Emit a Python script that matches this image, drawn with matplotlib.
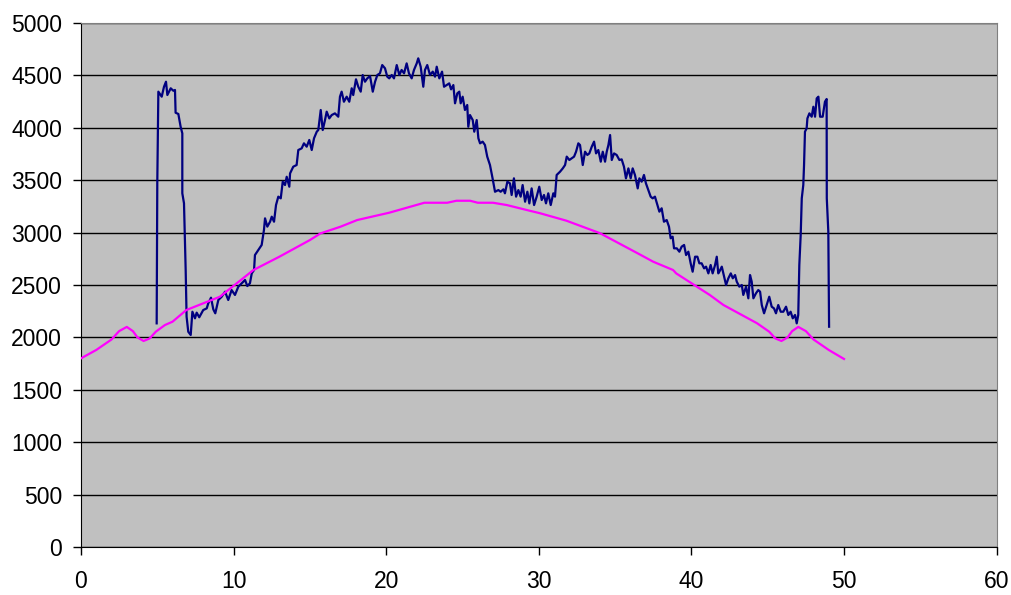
import matplotlib
matplotlib.use("Agg")
import matplotlib.pyplot as plt

meas_x = [4.96, 5.0, 5.07, 5.29, 5.44, 5.57, 5.66, 5.88, 6.05, 6.16, 6.2, 6.38, 6.53, 6.64, 6.64,
          6.75, 6.86, 6.92, 7.03, 7.19, 7.3, 7.47, 7.58, 7.75, 8.01, 8.24, 8.34, 8.52, 8.67, 8.8,
          9.0, 9.22, 9.44, 9.65, 9.87, 10.09, 10.31, 10.53, 10.75, 10.9, 11.07, 11.19, 11.34, 11.4,
          11.62, 11.84, 11.99, 12.06, 12.21, 12.39, 12.5, 12.65, 12.78, 12.93, 13.09, 13.22, 13.37,
          13.48, 13.65, 13.7, 13.91, 14.13, 14.24, 14.46, 14.61, 14.79, 14.96, 15.12, 15.27, 15.45,
          15.55, 15.71, 15.84, 15.99, 16.1, 16.27, 16.43, 16.64, 16.86, 16.97, 17.08, 17.23, 17.41,
          17.58, 17.74, 17.84, 18.02, 18.17, 18.33, 18.46, 18.61, 18.76, 18.94, 19.12, 19.27, 19.42,
          19.59, 19.74, 19.92, 20.07, 20.2, 20.36, 20.51, 20.69, 20.86, 21.01, 21.17, 21.34, 21.49,
          21.67, 21.82, 22.0, 22.1, 22.26, 22.43, 22.54, 22.69, 22.87, 23.05, 23.2, 23.31, 23.48,
          23.66, 23.79, 23.96, 24.13, 24.25, 24.4, 24.51, 24.66, 24.79, 24.88, 25.01, 25.16, 25.31,
          25.38, 25.49, 25.67, 25.77, 25.93, 26.04, 26.15, 26.32, 26.47, 26.62, 26.8, 26.97, 27.13,
          27.35, 27.5, 27.68, 27.78, 27.94, 28.11, 28.22, 28.37, 28.51, 28.66, 28.81, 28.94, 29.1,
          29.25, 29.38, 29.53, 29.69, 29.86, 30.03, 30.19, 30.34, 30.47, 30.62, 30.78, 30.95, 31.06,
          31.17, 31.39, 31.57, 31.72, 31.83, 32.0, 32.15, 32.31, 32.44, 32.59, 32.7, 32.88, 33.03,
          33.18, 33.31, 33.47, 33.62, 33.75, 33.9, 34.06, 34.19, 34.34, 34.45, 34.56, 34.67, 34.78,
          34.93, 35.1, 35.28, 35.43, 35.58, 35.71, 35.87, 36.02, 36.15, 36.3, 36.48, 36.59, 36.74,
          36.89, 37.02, 37.18, 37.33, 37.46, 37.61, 37.77, 37.9, 38.05, 38.2, 38.38, 38.53, 38.64,
          38.77, 38.86, 39.04, 39.21, 39.36, 39.52, 39.65, 39.8, 39.95, 40.08, 40.24, 40.39, 40.52,
          40.67, 40.83, 40.96, 41.11, 41.26, 41.39, 41.55, 41.66, 41.76, 41.83, 41.99, 42.14, 42.27,
          42.42, 42.58, 42.71, 42.86, 42.97, 43.14, 43.3, 43.4, 43.58, 43.73, 43.84, 43.95, 44.06,
          44.23, 44.38, 44.5, 44.61, 44.76, 44.93, 45.1, 45.26, 45.41, 45.54, 45.69, 45.85, 46.02,
          46.2, 46.35, 46.5, 46.64, 46.79, 46.9, 47.0, 47.07, 47.16, 47.23, 47.33, 47.38, 47.44,
          47.55, 47.6, 47.73, 47.88, 47.99, 48.1, 48.21, 48.32, 48.43, 48.6, 48.75, 48.86, 48.87,
          48.97, 49.02]
meas_y = [2134, 3470, 4345, 4297, 4392, 4440, 4313, 4377, 4354, 4361, 4144, 4132, 4010, 3947, 3375,
          3280, 2643, 2198, 2054, 2023, 2245, 2182, 2236, 2192, 2261, 2277, 2325, 2379, 2268, 2230,
          2357, 2388, 2436, 2357, 2452, 2405, 2484, 2516, 2548, 2490, 2516, 2611, 2643, 2786,
          2834, 2882, 3025, 3136, 3057, 3104, 3152, 3104, 3263, 3343, 3327, 3486, 3454,
          3533, 3438, 3565, 3629, 3645, 3788, 3804, 3852, 3820, 3884, 3788, 3900, 3963,
          3979, 4170, 3979, 4074, 4154, 4090, 4122, 4138, 4106, 4297, 4345, 4249, 4297,
          4249, 4377, 4313, 4463, 4392, 4345, 4504, 4440, 4472, 4494, 4345, 4440, 4504,
          4520, 4599, 4568, 4488, 4472, 4504, 4472, 4599, 4504, 4552, 4520, 4615, 4520,
          4472, 4552, 4615, 4663, 4583, 4392, 4552, 4599, 4504, 4536, 4488, 4583, 4472,
          4536, 4392, 4408, 4424, 4367, 4408, 4234, 4329, 4345, 4234, 4297, 4170, 4218,
          4010, 4122, 4074, 3963, 4074, 3900, 3852, 3868, 3836, 3725, 3645, 3518, 3390,
          3406, 3390, 3413, 3375, 3486, 3470, 3359, 3518, 3343, 3406, 3343, 3454, 3295,
          3390, 3279, 3422, 3263, 3343, 3438, 3311, 3359, 3279, 3375, 3263, 3375, 3343,
          3550, 3581, 3613, 3645, 3725, 3693, 3709, 3725, 3772, 3852, 3836, 3645, 3772,
          3741, 3756, 3820, 3868, 3756, 3788, 3677, 3772, 3677, 3772, 3836, 3931, 3693,
          3756, 3741, 3693, 3699, 3629, 3518, 3613, 3518, 3613, 3550, 3422, 3518, 3486,
          3550, 3470, 3406, 3343, 3327, 3343, 3263, 3200, 3232, 3104, 3120, 3057, 2946,
          2961, 2850, 2850, 2818, 2866, 2882, 2786, 2818, 2707, 2627, 2770, 2770, 2707,
          2707, 2659, 2675, 2611, 2691, 2611, 2691, 2770, 2611, 2627, 2675, 2579, 2500,
          2564, 2611, 2564, 2595, 2532, 2484, 2500, 2405, 2484, 2373, 2595, 2532, 2373,
          2421, 2452, 2436, 2309, 2230, 2309, 2388, 2293, 2277, 2230, 2309, 2245, 2245,
          2293, 2214, 2245, 2182, 2214, 2134, 2214, 2691, 2977, 3327, 3454, 3645, 3963,
          3995, 4090, 4138, 4106, 4201, 4106, 4281, 4297, 4106, 4106, 4249, 4275, 3327,
          3009, 2102]

# smooth reference series (magenta)
ref_x = [0, 1, 2, 2.5, 3, 3.4, 3.7, 4.1, 4.5, 4.9, 5.5, 6.0, 6.9, 9.1, 11.3, 13.0, 15.0, 15.7,
         17.0, 18.1, 20.2, 22.5, 24.0, 24.6, 25.5, 26.0, 27.0, 27.9, 29.2, 30.1, 31.8, 34.0,
         36.6, 37.5, 38.8, 39.0, 41.2, 42.1, 44.3, 45.1, 45.5, 45.9, 46.3, 46.6, 47.0, 47.5,
         48.0, 49.0, 50.0]
ref_y = [1800, 1880, 1980, 2060, 2100, 2060, 2000, 1966, 1990, 2054, 2118, 2150, 2261, 2388,
         2643, 2770, 2929, 2993, 3056, 3120, 3190, 3285, 3285, 3304, 3304, 3285, 3285, 3263,
         3216, 3184, 3114, 2995, 2793, 2722, 2643, 2611, 2405, 2309, 2135, 2054, 1990, 1966,
         2000, 2060, 2100, 2060, 1980, 1880, 1794]

plt.rcParams["font.family"] = ["Liberation Sans", "DejaVu Sans"]

fig = plt.figure(figsize=(10.11, 5.95), dpi=100)
ax = fig.add_axes([0.0801, 0.0807, 0.9057, 0.8806])
ax.set_facecolor("#C0C0C0")

ax.plot(meas_x, meas_y, color="#000080", lw=1.6, zorder=3)
ax.plot(ref_x, ref_y, color="#FF00FF", lw=1.6, zorder=3)

ax.set_xlim(0, 60)
ax.set_ylim(0, 5000)
ax.set_xticks(range(0, 61, 10))
ax.set_yticks(range(0, 5001, 500))
ax.yaxis.grid(True, color="black", lw=1.0)
ax.set_axisbelow(True)

ax.tick_params(axis="both", direction="out", length=5.5, width=1, labelsize=16.5)
ax.tick_params(axis="x", pad=11)
ax.tick_params(axis="y", pad=8)
for side in ("left", "bottom"):
    ax.spines[side].set_color("black")
for side in ("top", "right"):
    ax.spines[side].set_color("#808080")

fig.savefig("out.png", dpi=100)
